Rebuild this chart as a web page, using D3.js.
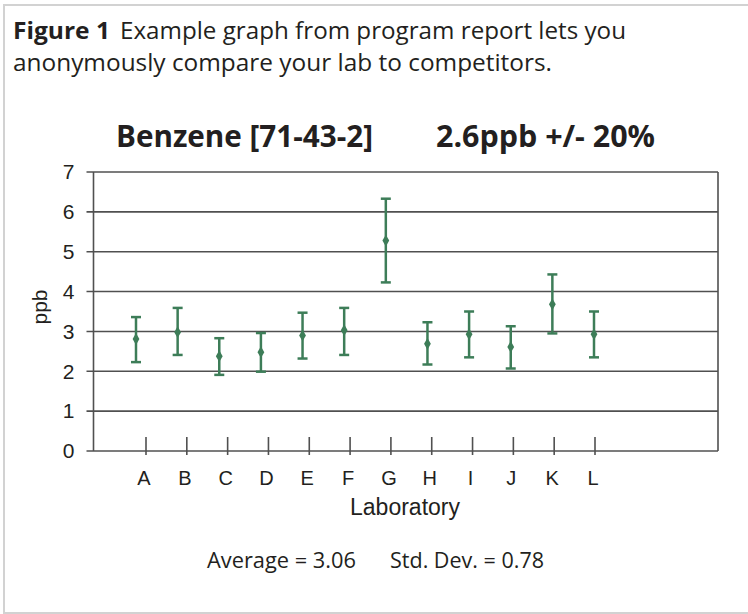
<!DOCTYPE html>
<html>
<head>
<meta charset="utf-8">
<script src="https://cdn.jsdelivr.net/npm/d3@7"></script>
<style>
  html, body { margin: 0; padding: 0; background: #fff; }
  svg { display: block; }
</style>
</head>
<body>
<svg id="chart" width="748" height="614"></svg>
<script>
// ---- data ----
const labs = ["A","B","C","D","E","F","G","H","I","J","K","L"];
const means = [2.81, 2.98, 2.38, 2.48, 2.90, 3.03, 5.28, 2.69, 2.93, 2.61, 3.68, 2.93];
const upper = [3.36, 3.59, 2.83, 2.96, 3.47, 3.59, 6.33, 3.23, 3.50, 3.13, 4.43, 3.50];
const lower = [2.23, 2.41, 1.91, 1.99, 2.32, 2.41, 4.23, 2.17, 2.35, 2.07, 2.95, 2.35];
const yTicks = [0, 1, 2, 3, 4, 5, 6, 7];
const captionBold = "Figure 1";
const captionLine1 = "Example graph from program report lets you";
const captionLine2 = "anonymously compare your lab to competitors.";
const titleLeft = "Benzene [71-43-2]";
const titleRight = "2.6ppb +/- 20%";
const yLabel = "ppb";
const xLabel = "Laboratory";
const statAvg = "Average = 3.06";
const statSd = "Std. Dev. = 0.78";

const svg = d3.select("#chart");
const humanist = "'Open Sans', 'Noto Sans', sans-serif";
const arial = "'Liberation Sans', Arial, sans-serif";
const green = "#3d7d58";
const gridCol = "#505050";
const ink = "#231f20";

// frame
svg.append("rect").attr("x", 0).attr("y", 0).attr("width", 748).attr("height", 614).attr("fill", "#fff");
svg.append("rect").attr("x", 4).attr("y", 5).attr("width", 760).attr("height", 608)
  .attr("fill", "none").attr("stroke", "#d2d2d2").attr("stroke-width", 2);

// caption
svg.append("text").attr("x", 13).attr("y", 39).attr("font-family", humanist).attr("font-weight", 700)
  .attr("font-size", 24).attr("fill", ink).attr("textLength", 97).attr("lengthAdjust", "spacingAndGlyphs").text(captionBold);
svg.append("text").attr("x", 120).attr("y", 39).attr("font-family", humanist)
  .attr("font-size", 24).attr("fill", ink).attr("textLength", 506).attr("lengthAdjust", "spacingAndGlyphs").text(captionLine1);
svg.append("text").attr("x", 13).attr("y", 71).attr("font-family", humanist)
  .attr("font-size", 24).attr("fill", ink).attr("textLength", 539).attr("lengthAdjust", "spacingAndGlyphs").text(captionLine2);

// title
svg.append("text").attr("x", 116).attr("y", 147).attr("font-family", humanist).attr("font-weight", 700)
  .attr("font-size", 30).attr("fill", ink).attr("textLength", 257).attr("lengthAdjust", "spacingAndGlyphs").text(titleLeft);
svg.append("text").attr("x", 436).attr("y", 147).attr("font-family", humanist).attr("font-weight", 700)
  .attr("font-size", 30).attr("fill", ink).attr("textLength", 219).attr("lengthAdjust", "spacingAndGlyphs").text(titleRight);

// scales
const plotL = 93.5, plotR = 718, plotT = 172, plotB = 451;
const y = d3.scaleLinear().domain([0, 7]).range([plotB, plotT]);
const xTick = d3.scalePoint().domain(labs).range([145.5, 594.5]);
const xData = d3.scalePoint().domain(labs).range([136, 594]);

// gridlines (incl. short outside ticks)
svg.append("g").selectAll("line").data(yTicks).join("line")
  .attr("x1", plotL - 7).attr("x2", plotR)
  .attr("y1", d => y(d)).attr("y2", d => y(d))
  .attr("stroke", gridCol).attr("stroke-width", 1.6);
// left & right borders
svg.append("line").attr("x1", plotL).attr("x2", plotL).attr("y1", plotT).attr("y2", plotB)
  .attr("stroke", gridCol).attr("stroke-width", 1.6);
svg.append("line").attr("x1", plotR).attr("x2", plotR).attr("y1", plotT).attr("y2", plotB)
  .attr("stroke", gridCol).attr("stroke-width", 1.6);

// y axis labels
const yAxis = svg.append("g").attr("transform", `translate(${plotL},0)`)
  .call(d3.axisLeft(y).tickValues(yTicks).tickFormat(d3.format("d")).tickSize(7).tickPadding(12));
yAxis.select(".domain").remove();
yAxis.selectAll(".tick line").remove();
yAxis.attr("font-size", null).attr("font-family", null);
yAxis.selectAll("text").style("font-family", arial).style("font-size", "21px").attr("fill", ink);

// x axis
const xAxis = svg.append("g").attr("transform", `translate(0,437)`)
  .call(d3.axisBottom(xTick).tickSize(18).tickPadding(16));
xAxis.select(".domain").remove();
xAxis.attr("font-size", null).attr("font-family", null);
xAxis.selectAll(".tick line").attr("stroke", gridCol).attr("stroke-width", 1.6);
xAxis.selectAll("text").style("font-family", arial).style("font-size", "20px").attr("fill", ink).attr("dx", -2);

// axis titles
svg.append("text").attr("transform", "translate(47,307) rotate(-90)").attr("text-anchor", "middle")
  .style("font-family", arial).style("font-size", "21px").attr("fill", ink).text(yLabel);
svg.append("text").attr("x", 405).attr("y", 515).attr("text-anchor", "middle")
  .style("font-family", arial).style("font-size", "23px").attr("fill", ink).text(xLabel);

// error bars
const data = labs.map((l, i) => ({ lab: l, m: means[i], hi: upper[i], lo: lower[i] }));
const eb = svg.append("g").selectAll("g").data(data).join("g")
  .attr("transform", d => `translate(${xData(d.lab)},0)`);
eb.append("line").attr("y1", d => y(d.lo)).attr("y2", d => y(d.hi))
  .attr("stroke", green).attr("stroke-width", 2.5);
eb.append("line").attr("x1", -5).attr("x2", 5).attr("y1", d => y(d.hi)).attr("y2", d => y(d.hi))
  .attr("stroke", green).attr("stroke-width", 2.5);
eb.append("line").attr("x1", -5).attr("x2", 5).attr("y1", d => y(d.lo)).attr("y2", d => y(d.lo))
  .attr("stroke", green).attr("stroke-width", 2.5);
eb.append("path").attr("d", d3.symbol(d3.symbolDiamond, 40))
  .attr("transform", d => `translate(0,${y(d.m)})`).attr("fill", green);

// stats
svg.append("text").attr("x", 207).attr("y", 568).attr("font-family", humanist)
  .attr("font-size", 22).attr("fill", ink).attr("textLength", 149).attr("lengthAdjust", "spacingAndGlyphs").text(statAvg);
svg.append("text").attr("x", 390).attr("y", 568).attr("font-family", humanist)
  .attr("font-size", 22).attr("fill", ink).attr("textLength", 154).attr("lengthAdjust", "spacingAndGlyphs").text(statSd);
</script>
</body>
</html>
